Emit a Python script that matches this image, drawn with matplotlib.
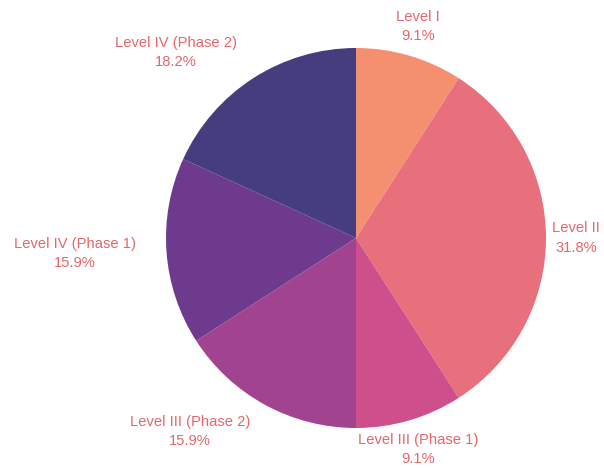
import matplotlib
matplotlib.use("Agg")
from matplotlib import pyplot as plt

# Data
levels = ["Level I", "Level II", "Level III (Phase 1)", "Level III (Phase 2)",
          "Level IV (Phase 1)", "Level IV (Phase 2)"]
counts = [2, 7, 2, 3.5, 3.5, 4]
slice_colors = ["#f4906f", "#e8707c", "#cd4f8c", "#a2438f", "#6d3a8d", "#463d7f"]

plt.rcParams['font.family'] = ['Liberation Sans', 'DejaVu Sans']

fig = plt.figure(figsize=(6.04, 4.68), dpi=100)
# pie centre at (356, 238) px, radius 190 px
ax = fig.add_axes([166 / 604, 40 / 468, 380 / 604, 380 / 468])

total = sum(counts)
labels = [f"{name}\n{100 * c / total:.1f}%" for name, c in zip(levels, counts)]

wedges, texts = ax.pie(counts, labels=labels, colors=slice_colors,
                       startangle=90, counterclock=False, radius=1.0,
                       labeldistance=1.16,
                       wedgeprops=dict(linewidth=0),
                       textprops=dict(color="#e6666b", fontsize=10.6,
                                      linespacing=1.5))

for t in texts:
    x, y = t.get_position()
    t.set_multialignment('center')
    t.set_va('center')
    if x < -0.05:
        t.set_ha('right')
    else:
        t.set_ha('center')

ax.set_xlim(-1, 1)
ax.set_ylim(-1, 1)
ax.set_aspect('equal')
ax.axis('off')

fig.savefig("out.png", dpi=100)
